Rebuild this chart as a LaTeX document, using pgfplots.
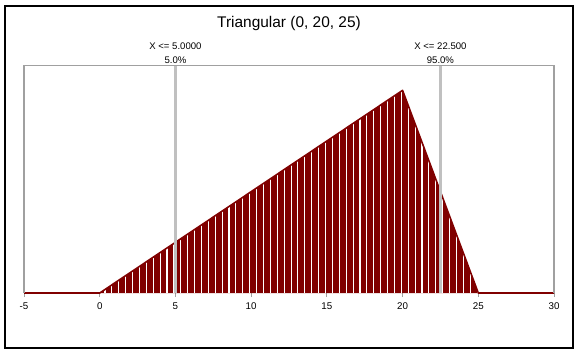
\documentclass[border=0pt]{standalone}
\usepackage{pgfplots}
\pgfplotsset{compat=1.18}
\usepackage{fontspec}
\setmainfont{Liberation Sans}
\definecolor{darkred}{HTML}{800000}
\definecolor{framegray}{HTML}{A0A0A0}
\definecolor{markgray}{HTML}{C0C0C0}
\begin{document}
\begin{tikzpicture}[x=1bp,y=1bp]
\useasboundingbox (0,0) rectangle (578,-357);
\draw[black, line width=1.5bp] (5,-6) rectangle (573,-348);
\begin{axis}[
  at={(24bp,-293bp)}, anchor=south west,
  scale only axis, width=530bp, height=228bp,
  xmin=-5, xmax=30, ymin=0, ymax=0.09,
  xtick={-5,0,5,10,15,20,25,30}, ytick=\empty,
  axis line style={draw=none},
  tick align=outside, xtick pos=bottom,
  major tick length=4bp,
  tick style={framegray, line width=1bp},
  /pgf/number format/assume math mode=true,
  ticklabel style={font=\fontsize{9.8}{11}\selectfont},
  xticklabel style={yshift=-2bp},
  clip=false,
]
\addplot[draw=none, fill=darkred] coordinates {(-5,0)(0,0)(20,0.08)(25,0)(30,0)} \closedcycle;
\addplot[ycomb, white, line width=1.1bp, mark=none] coordinates {
(0.35,0.0014)(0.805,0.00322)(1.26,0.00504)(1.715,0.00686)(2.17,0.00868)
(2.625,0.0105)(3.08,0.01232)(3.535,0.01414)(3.99,0.01596)(4.445,0.01778)
(4.9,0.0196)(5.355,0.02142)(5.81,0.02324)(6.265,0.02506)(6.72,0.02688)
(7.175,0.0287)(7.63,0.03052)(8.085,0.03234)(8.54,0.03416)(8.995,0.03598)
(9.45,0.0378)(9.905,0.03962)(10.36,0.04144)(10.815,0.04326)(11.27,0.04508)
(11.725,0.0469)(12.18,0.04872)(12.635,0.05054)(13.09,0.05236)(13.545,0.05418)
(14.0,0.056)(14.455,0.05782)(14.91,0.05964)(15.365,0.06146)(15.82,0.06328)
(16.275,0.0651)(16.73,0.06692)(17.185,0.06874)(17.64,0.07056)(18.095,0.07238)
(18.55,0.0742)(19.005,0.07602)(19.46,0.07784)(19.915,0.07966)(20.37,0.07408)
(20.825,0.0668)(21.28,0.05952)(21.735,0.05224)(22.19,0.04496)(22.645,0.03768)
(23.1,0.0304)(23.555,0.02312)(24.01,0.01584)(24.465,0.00856)(24.92,0.00128)
};
\addplot[darkred, line width=1.6bp, mark=none, line join=round] coordinates {(-5,0)(0,0)(20,0.08)(25,0)(30,0)};
\addplot[markgray, line width=3bp, mark=none] coordinates {(5,0)(5,0.09)};
\addplot[markgray, line width=3bp, mark=none] coordinates {(22.5,0)(22.5,0.09)};
\draw[framegray, line width=2bp] (rel axis cs:0,0) -- (rel axis cs:0,1);
\draw[framegray, line width=2bp] (rel axis cs:1,0) -- (rel axis cs:1,1);
\draw[framegray, line width=1bp] (rel axis cs:0,1) -- (rel axis cs:1,1);
\node[font=\fontsize{9.6}{11}\selectfont, anchor=base] at ([yshift=2bp]axis cs:5,0.09) {5.0\%};
\node[font=\fontsize{9.6}{11}\selectfont, anchor=base] at ([yshift=16bp]axis cs:5,0.09) {X <= 5.0000};
\node[font=\fontsize{9.6}{11}\selectfont, anchor=base] at ([yshift=2bp]axis cs:22.5,0.09) {95.0\%};
\node[font=\fontsize{9.6}{11}\selectfont, anchor=base] at ([yshift=16bp]axis cs:22.5,0.09) {X <= 22.500};
\end{axis}
\node[font=\fontsize{15.5}{18}\selectfont] at (289,-24) {Triangular (0, 20, 25)};
\end{tikzpicture}
\end{document}
